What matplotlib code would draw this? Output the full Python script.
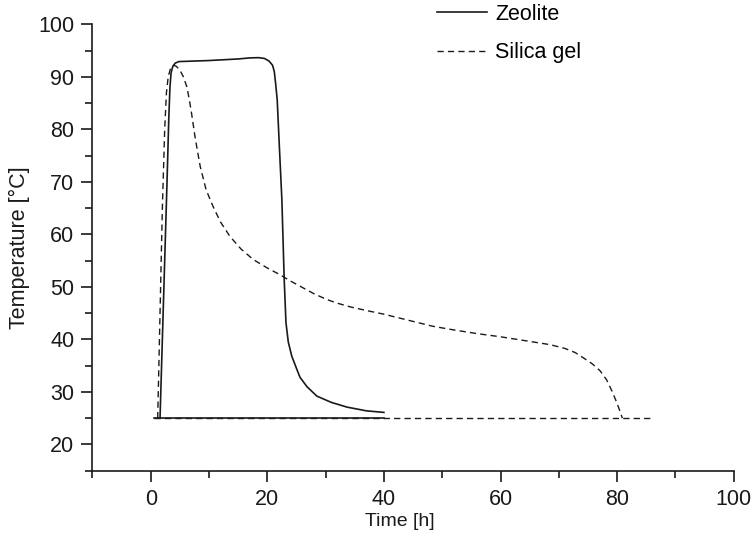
import matplotlib
matplotlib.use("Agg")
import matplotlib.pyplot as plt
from matplotlib.ticker import MultipleLocator

# Data
zeolite_t = [1.6, 2.0, 2.4, 2.8, 3.1, 3.3, 3.5, 3.8, 4.2, 4.8, 10.0, 15.0, 17.0, 18.5,
             19.5, 20.3, 20.9, 21.2, 21.45, 21.7, 22.1, 22.5, 22.9, 23.2, 23.6, 24.2,
             25.0, 25.6, 26.8, 28.5, 31.0, 33.7, 37.0, 40.0]
zeolite_T = [25.0, 40.0, 55.0, 70.0, 82.0, 88.0, 90.8, 92.0, 92.6, 92.9, 93.1, 93.4, 93.6, 93.65,
             93.5, 93.0, 92.2, 91.0, 88.5, 85.6, 76.0, 66.6, 51.4, 43.2, 39.5, 36.8,
             34.5, 32.8, 31.0, 29.2, 28.0, 27.1, 26.4, 26.1]
silica_t = [1.2, 1.6, 2.0, 2.4, 2.7, 3.0, 3.4, 3.9, 4.4, 5.0, 5.6, 6.2, 6.6, 7.0, 7.6, 8.0,
            8.5, 9.5, 10.7, 12.0, 13.6, 15.5, 17.6, 20.0, 22.2, 24.0, 26.0, 28.0, 30.2,
            32.0, 34.2, 37.0, 40.0, 44.0, 48.4, 52.0, 56.0, 60.0, 64.0, 68.5, 71.0, 72.8,
            74.2, 75.8, 77.1, 78.2, 79.1, 79.9, 80.6, 80.9]
silica_T = [25.0, 45.0, 65.0, 80.0, 87.0, 90.0, 91.6, 92.2, 92.0, 91.3, 90.0, 88.1, 85.8, 83.1,
            78.6, 76.0, 72.9, 68.5, 65.3, 62.3, 59.6, 57.2, 55.2, 53.6, 52.3, 51.1, 49.9,
            48.7, 47.6, 46.9, 46.2, 45.5, 44.8, 43.7, 42.5, 41.8, 41.1, 40.5, 39.8, 39.0,
            38.3, 37.5, 36.5, 35.3, 34.0, 32.3, 30.2, 28.1, 26.0, 25.0]
ambient_T = 25.0
zeolite_base_t = [0.6, 40.0]
silica_base_t = [0.6, 85.6]

xticks = [0, 20, 40, 60, 80, 100]
yticks = [20, 30, 40, 50, 60, 70, 80, 90, 100]

col = "#1a1a1a"
plt.rcParams['font.family'] = ['Liberation Sans', 'DejaVu Sans']

fig = plt.figure(figsize=(7.53, 5.36), dpi=100)
W, H = 753, 536
ax = fig.add_axes([92.4 / W, 1 - 470.7 / H, (733.7 - 92.4) / W, (470.7 - 24.3) / H])

dash = (0, (4.5, 3.0))
l1, = ax.plot(zeolite_t, zeolite_T, color=col, lw=1.2, label="Zeolite")
ax.plot(zeolite_base_t, [ambient_T, ambient_T], color=col, lw=1.2)
l2, = ax.plot(silica_t, silica_T, color=col, lw=1.0, linestyle=dash, label="Silica gel")
ax.plot(silica_base_t, [ambient_T, ambient_T], color=col, lw=1.0, linestyle=dash)

ax.set_xlim(-10, 100)
ax.set_ylim(15, 100)
ax.set_xticks(xticks)
ax.set_yticks(yticks)
ax.xaxis.set_minor_locator(MultipleLocator(10))
ax.yaxis.set_minor_locator(MultipleLocator(5))
for s in ["top", "right"]:
    ax.spines[s].set_visible(False)
for s in ["left", "bottom"]:
    ax.spines[s].set_linewidth(1.2)
    ax.spines[s].set_color(col)
ax.tick_params(which="major", direction="out", length=8, width=1.2, colors=col, labelsize=15.5, pad=5)
ax.tick_params(which="minor", direction="out", length=5, width=1.2, colors=col)
ax.set_xlabel("Time [h]", fontsize=14, color=col, va="center")
ax.xaxis.set_label_coords((400 - 92.4) / (733.7 - 92.4), (470.7 - 522) / (470.7 - 24.3))
ax.set_ylabel("Temperature [°C]", fontsize=15.5, color=col, labelpad=6)

fig.legend(handles=[l1, l2], loc="upper left", bbox_to_anchor=(437 / W, 1 - 4 / H),
           frameon=False, fontsize=15.5, handlelength=2.3, handletextpad=0.4,
           labelspacing=0.8, borderpad=0, borderaxespad=0)

fig.savefig("out.png", dpi=100)
